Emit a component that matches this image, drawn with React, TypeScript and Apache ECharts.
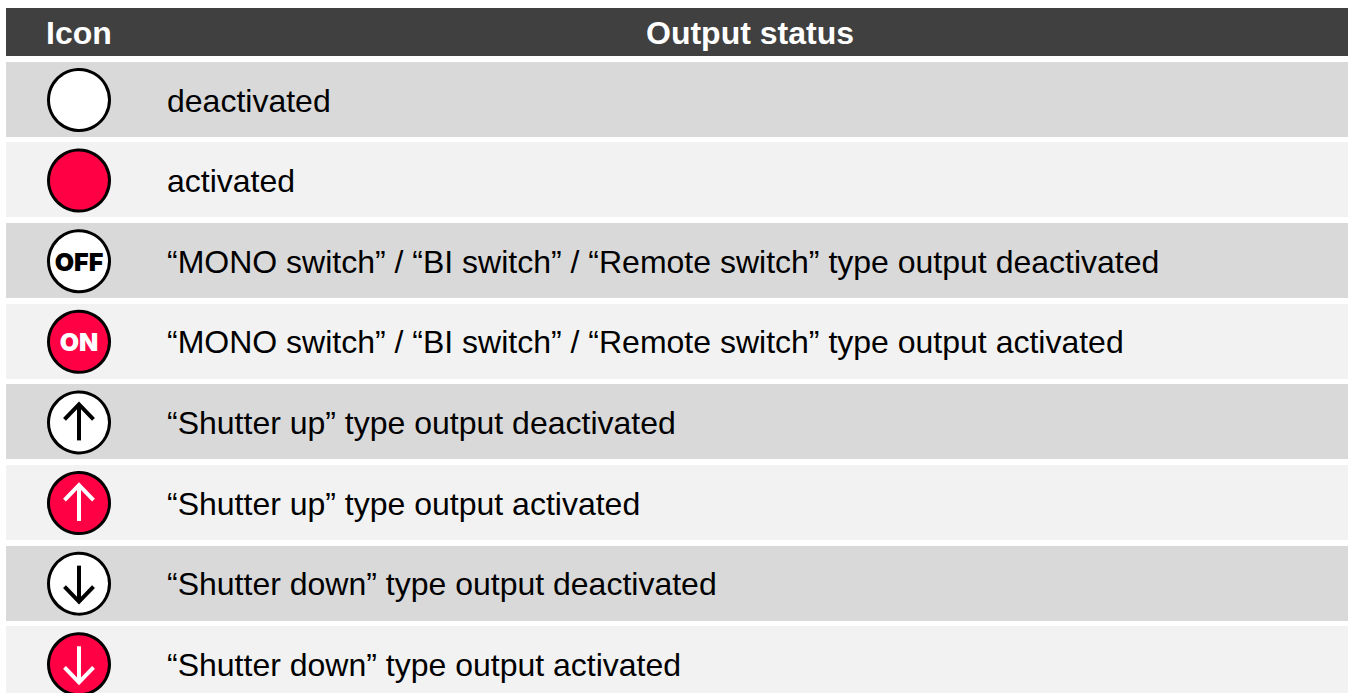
import React, { useEffect, useRef } from "react";
import * as echarts from "echarts";

const headerIcon = "Icon";
const headerStatus = "Output status";
const statuses = [
  "deactivated",
  "activated",
  "“MONO switch” / “BI switch” / “Remote switch” type output deactivated",
  "“MONO switch” / “BI switch” / “Remote switch” type output activated",
  "“Shutter up” type output deactivated",
  "“Shutter up” type output activated",
  "“Shutter down” type output deactivated",
  "“Shutter down” type output activated",
];
const glyphs = ["", "", "OFF", "ON", "up", "up", "down", "down"];
const active = [0, 1, 0, 1, 0, 1, 0, 1];

const FONT = '"Liberation Sans", Arial, sans-serif';
const RED = "#FF0045";

export default function App() {
  const ref = useRef<HTMLDivElement>(null);
  useEffect(() => {
    const chart = echarts.init(ref.current!, undefined, { renderer: "svg" });
    const renderItem = (params: any, api: any) => {
      const i = params.dataIndex;
      const c = api.coord([0, i]);
      const cy = c[1];
      const iy = cy + 0.6;
      const left = 6, right = 1348, h = 75;
      const isOn = active[i] === 1;
      const fg = isOn ? "#ffffff" : "#000000";
      const children: any[] = [
        { type: "rect", shape: { x: left, y: Math.round(cy - h / 2), width: right - left, height: h }, style: { fill: i % 2 === 0 ? "#D9D9D9" : "#F2F2F2" } },
        { type: "circle", shape: { cx: 79, cy: iy, r: 30.5 }, style: { fill: isOn ? RED : "#ffffff", stroke: "#000000", lineWidth: 3 } },
        { type: "text", style: { x: 167, y: cy + 1.2, text: statuses[i], font: `32px ${FONT}`, fill: "#000000", verticalAlign: "middle", align: "left" } },
      ];
      const g = glyphs[i];
      if (g === "OFF" || g === "ON") {
        children.push({ type: "text", style: { x: 79, y: iy + 0.5, text: g, font: `900 25px Inter, ${FONT}`, fill: fg, align: "center", verticalAlign: "middle" } });
      } else if (g) {
        const dir = g === "up" ? -1 : 1;
        const tipY = iy + dir * 18;
        const tailY = iy - dir * 18;
        children.push(
          { type: "line", shape: { x1: 79, y1: tailY, x2: 79, y2: tipY }, style: { stroke: fg, lineWidth: 4 } },
          { type: "polyline", shape: { points: [[64.5, tipY - dir * 15], [79, tipY], [93.5, tipY - dir * 15]] }, style: { stroke: fg, lineWidth: 4, fill: "none" } }
        );
      }
      return { type: "group", children };
    };
    chart.setOption({
      animation: false,
      grid: { left: 6, top: 59.02, width: 1342, height: 644.96 },
      xAxis: { type: "value", min: 0, max: 1, show: false },
      yAxis: { type: "category", inverse: true, show: false, data: statuses },
      series: [{ type: "custom", renderItem, clip: false, silent: true, data: statuses.map((_, i) => [0, i]), encode: { x: 0, y: 1 } }],
      graphic: [
        { type: "rect", shape: { x: 6, y: 8, width: 1342, height: 48 }, style: { fill: "#404040" } },
        { type: "text", style: { x: 79, y: 33, text: headerIcon, font: `bold 32px ${FONT}`, fill: "#ffffff", align: "center", verticalAlign: "middle" } },
        { type: "text", style: { x: 750, y: 33, text: headerStatus, font: `bold 32px ${FONT}`, fill: "#ffffff", align: "center", verticalAlign: "middle" } },
      ],
    });
    return () => chart.dispose();
  }, []);
  return (
    <div style={{ position: "absolute", left: 0, top: 0, width: 1351, height: 693, overflow: "hidden" }}>
      <div ref={ref} style={{ width: 1351, height: 720 }} />
    </div>
  );
}
